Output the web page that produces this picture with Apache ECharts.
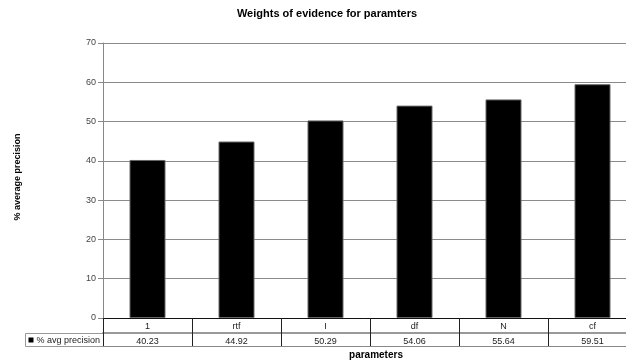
<!DOCTYPE html>
<html>
<head>
<meta charset="utf-8">
<script src="https://cdn.jsdelivr.net/npm/echarts@6/dist/echarts.min.js"></script>
<style>
  html, body { margin: 0; padding: 0; background: #fff; }
  #chart { width: 626px; height: 360px; }
</style>
</head>
<body>
<div id="chart"></div>
<script>
// Parameters and their % average precision
const categories = ['1', 'rtf', 'I', 'df', 'N', 'cf'];
const avgPrecision = [40.23, 44.92, 50.29, 54.06, 55.64, 59.51];
const seriesName = '% avg precision';
const yTicks = { min: 0, max: 70, interval: 10 };

const FONT = '"Liberation Sans", Arial, sans-serif';
const chart = echarts.init(document.getElementById('chart'), null, { renderer: 'canvas' });

const plotLeft = 103, plotTop = 43, plotHeight = 275, plotWidth = 534;

chart.setOption({
  animation: false,
  backgroundColor: '#fff',
  title: {
    text: 'Weights of evidence for paramters',
    left: 322,
    textAlign: 'center',
    top: 3,
    textStyle: { fontFamily: FONT, fontSize: 11, fontWeight: 'bold', color: '#000' }
  },
  grid: {
    left: plotLeft, top: plotTop, width: plotWidth, height: plotHeight,
    containLabel: false, outerBoundsMode: 'none'
  },
  xAxis: [
    {
      // first table row: parameter names
      type: 'category',
      data: categories,
      position: 'bottom',
      axisLine: { lineStyle: { color: '#111', width: 1 } },
      axisTick: { show: true, length: 28, lineStyle: { color: '#222' } },
      axisLabel: { margin: 4, fontFamily: FONT, fontSize: 9, color: '#222' },
      splitLine: { show: false }
    },
    {
      // second table row: values
      type: 'category',
      data: avgPrecision.map(v => v.toFixed(2)),
      position: 'bottom',
      offset: 15,
      gridIndex: 0,
      axisLine: { lineStyle: { color: '#999', width: 2 } },
      axisTick: { show: false },
      axisLabel: { margin: 4, fontFamily: FONT, fontSize: 9, color: '#222' },
      splitLine: { show: false }
    },
    {
      // bottom edge of the table and axis title
      type: 'category',
      data: categories,
      position: 'bottom',
      offset: 28,
      axisLine: { lineStyle: { color: '#888', width: 1 } },
      axisTick: { show: false },
      axisLabel: { show: false },
      name: 'parameters',
      nameLocation: 'middle',
      nameGap: 4,
      nameTextStyle: { fontFamily: FONT, fontSize: 10, fontWeight: 'bold', color: '#000', padding: [0, 0, 0, 12] }
    }
  ],
  yAxis: {
    type: 'value',
    min: yTicks.min,
    max: yTicks.max,
    interval: yTicks.interval,
    name: '% average precision',
    nameLocation: 'middle',
    nameGap: 81,
    nameRotate: 90,
    nameTextStyle: { fontFamily: FONT, fontSize: 9, fontWeight: 'bold', color: '#000', padding: [0, 0, 0, 7] },
    axisLine: { show: true, lineStyle: { color: '#888' } },
    axisTick: { show: true, length: 5, lineStyle: { color: '#888' } },
    axisLabel: { margin: 7, fontFamily: FONT, fontSize: 9, color: '#444' },
    splitLine: { show: true, lineStyle: { color: '#8a8a8a', width: 1 } }
  },
  series: [{
    name: seriesName,
    type: 'bar',
    xAxisIndex: 0,
    data: avgPrecision,
    barWidth: 36,
    itemStyle: { color: '#000', borderColor: '#666', borderWidth: 1 }
  }],
  graphic: [
    {
      // legend key cell at the left of the value row
      type: 'group',
      left: 25,
      top: 333,
      children: [
        { type: 'rect', shape: { x: 0, y: 0, width: 78, height: 13 },
          style: { fill: '#fff', stroke: '#999', lineWidth: 1 } },
        { type: 'rect', shape: { x: 3, y: 4, width: 5, height: 5 },
          style: { fill: '#000' } },
        { type: 'text', x: 11, y: 7,
          style: { text: seriesName, font: '9px ' + FONT, fill: '#222', textVerticalAlign: 'middle' } }
      ]
    }
  ]
});
</script>
</body>
</html>
